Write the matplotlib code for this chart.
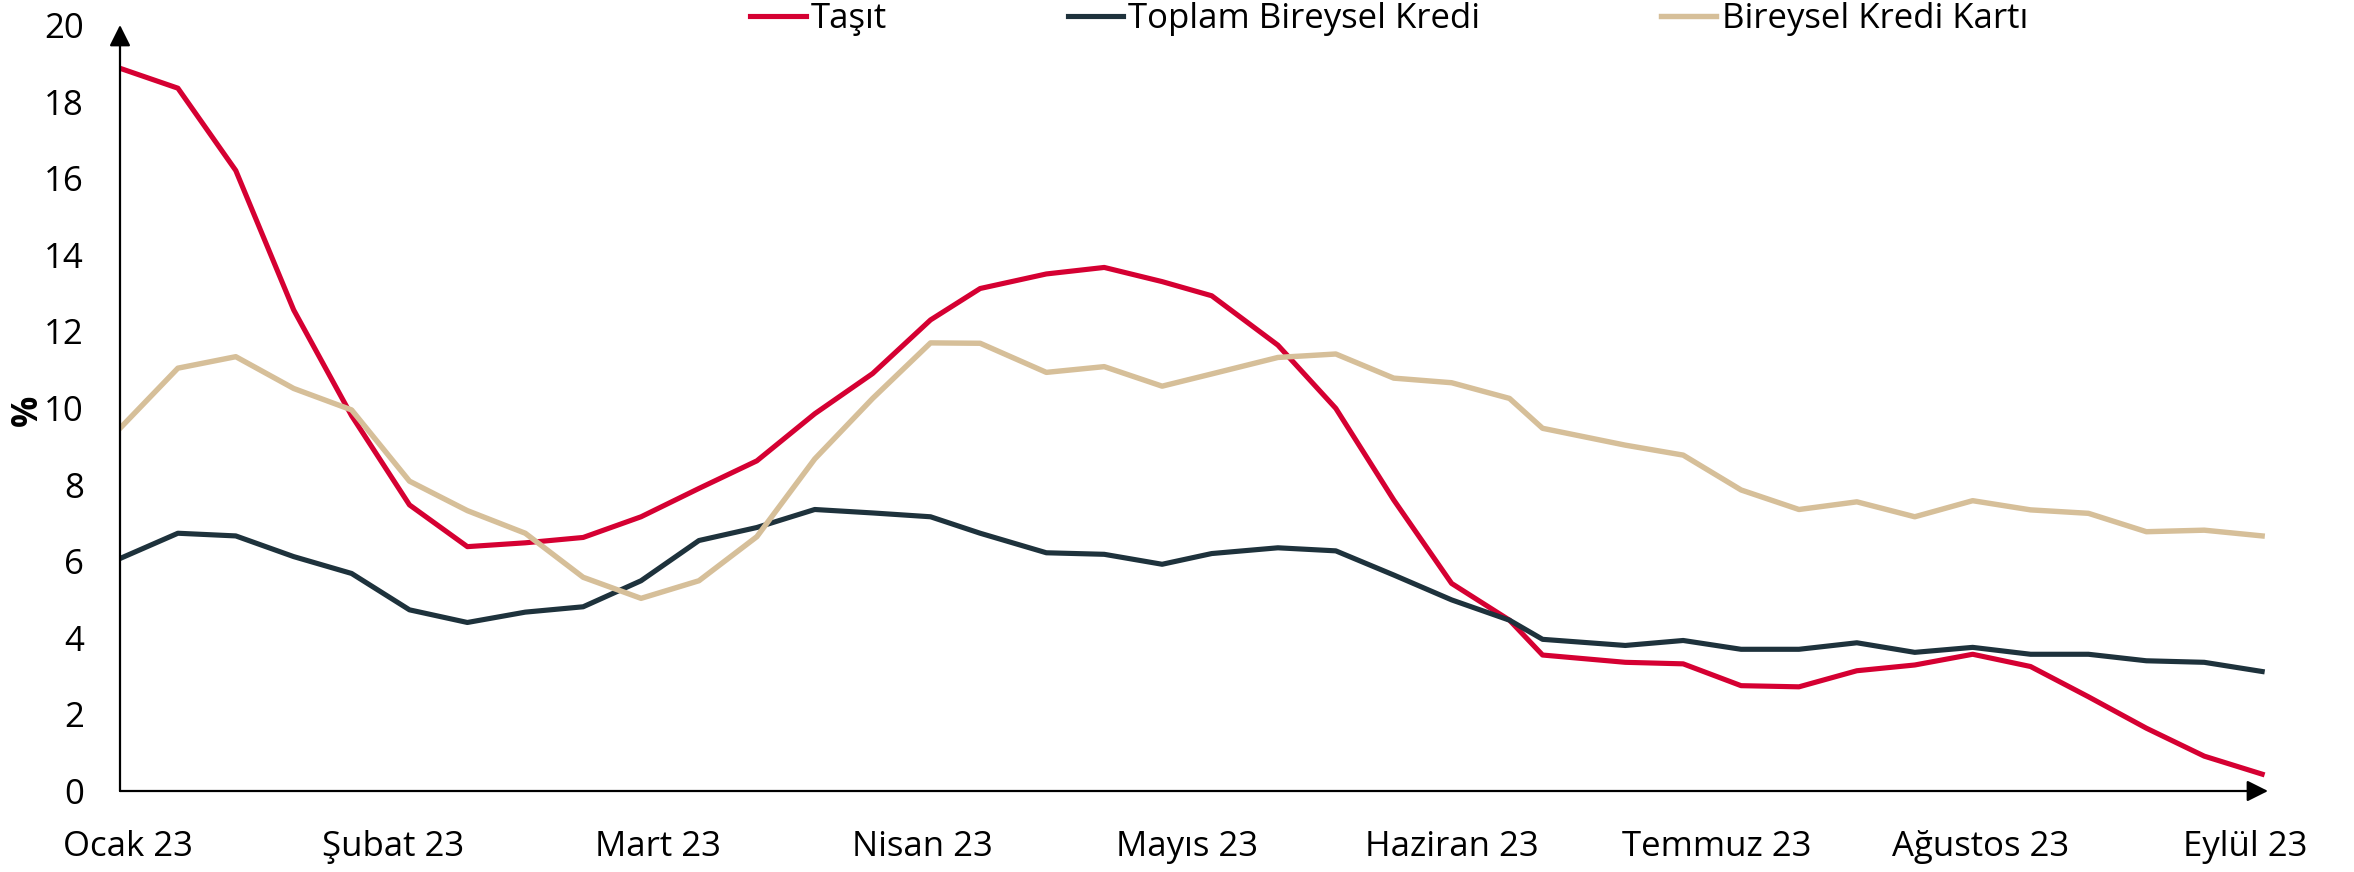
import matplotlib
matplotlib.use("Agg")
import matplotlib.pyplot as plt
import pandas as pd

plt.rcParams.update({
    "font.family": ["Open Sans", "DejaVu Sans"],
    "font.size": 25,
})

RED = "#D50032"
DARK = "#1E323C"
BEIGE = "#D6BF99"

# weekly data (holiday weeks reported on the last working day)
DATES = [
    "2023-01-06", "2023-01-13", "2023-01-20", "2023-01-27", "2023-02-03",
    "2023-02-10", "2023-02-17", "2023-02-24", "2023-03-03", "2023-03-10",
    "2023-03-17", "2023-03-24", "2023-03-31", "2023-04-07", "2023-04-14",
    "2023-04-20", "2023-04-28", "2023-05-05", "2023-05-12", "2023-05-18",
    "2023-05-26", "2023-06-02", "2023-06-09", "2023-06-16", "2023-06-23",
    "2023-06-27", "2023-07-07", "2023-07-14", "2023-07-21", "2023-07-28",
    "2023-08-04", "2023-08-11", "2023-08-18", "2023-08-25", "2023-09-01",
    "2023-09-08", "2023-09-15", "2023-09-22",
]

TASIT = [
    18.87, 18.35, 16.20, 12.56, 9.80, 7.47, 6.38, 6.48, 6.62, 7.16,
    7.90, 8.62, 9.85, 10.90, 12.30, 13.12, 13.50, 13.67, 13.30, 12.93,
    11.64, 9.99, 7.60, 5.42, 4.46, 3.55, 3.36, 3.32, 2.75, 2.72,
    3.14, 3.29, 3.57, 3.25, 2.46, 1.64, 0.91, 0.44,
]
TOPLAM = [
    6.07, 6.73, 6.66, 6.12, 5.68, 4.73, 4.40, 4.67, 4.81, 5.49,
    6.54, 6.88, 7.35, 7.26, 7.16, 6.73, 6.22, 6.18, 5.92, 6.20,
    6.35, 6.27, 5.64, 4.99, 4.46, 3.96, 3.80, 3.93, 3.70, 3.70,
    3.87, 3.62, 3.75, 3.57, 3.57, 3.40, 3.36, 3.12,
]
KART = [
    9.47, 11.04, 11.34, 10.51, 9.95, 8.09, 7.32, 6.73, 5.58, 5.03,
    5.49, 6.64, 8.67, 10.25, 11.70, 11.69, 10.93, 11.08, 10.57, 10.89,
    11.32, 11.41, 10.78, 10.66, 10.25, 9.47, 9.03, 8.77, 7.86, 7.35,
    7.55, 7.16, 7.58, 7.34, 7.25, 6.77, 6.81, 6.66,
]

TICK_DATES = ["2023-01-07", "2023-02-08", "2023-03-12", "2023-04-13", "2023-05-15",
              "2023-06-16", "2023-07-18", "2023-08-19", "2023-09-20"]
TICK_LABELS = ["Ocak 23", "Şubat 23", "Mart 23", "Nisan 23", "Mayıs 23",
               "Haziran 23", "Temmuz 23", "Ağustos 23", "Eylül 23"]

x = pd.to_datetime(DATES)

fig = plt.figure(figsize=(23.54, 8.72), dpi=100)
ax = fig.add_axes([120 / 2354, 1 - 791 / 872, 2148 / 2354, 766 / 872])

ax.plot(x, TASIT, color=RED, lw=3.7, label="Taşıt")
ax.plot(x, TOPLAM, color=DARK, lw=3.7, label="Toplam Bireysel Kredi")
ax.plot(x, KART, color=BEIGE, lw=3.9, label="Bireysel Kredi Kartı")

ax.set_ylim(0, 20)
ax.set_yticks(range(0, 21, 2))
ax.set_xlim(x[0], x[-1] + pd.Timedelta(hours=17))
ax.set_xticks(pd.to_datetime(TICK_DATES))
ax.set_xticklabels(TICK_LABELS)
ax.tick_params(axis="both", length=0, labelsize=25)
ax.tick_params(axis="x", pad=28)
ax.tick_params(axis="y", pad=26)

for side in ["top", "right", "left", "bottom"]:
    ax.spines[side].set_visible(False)

arrow = dict(arrowstyle="-|>", color="black", lw=1.6, mutation_scale=32,
             shrinkA=0, shrinkB=0)
ax.annotate("", xy=(0, 1), xytext=(0, 0), xycoords="axes fraction",
            arrowprops=arrow)
ax.annotate("", xy=(1, 0), xytext=(0, 0), xycoords="axes fraction",
            arrowprops=arrow)

# y axis unit, sitting left of the tick labels
fig.text(28 / 2354, 1 - 410 / 872, "%", rotation=90, ha="center", va="center",
         fontsize=25, fontweight="bold")

fig.legend(loc="upper left", bbox_to_anchor=(750 / 2354, 0.998), ncol=3,
           frameon=False, fontsize=25, handlelength=1.6, handletextpad=0.15,
           columnspacing=5.2, borderpad=0, borderaxespad=0.0)

fig.savefig("out.png", dpi=100, facecolor="white")
